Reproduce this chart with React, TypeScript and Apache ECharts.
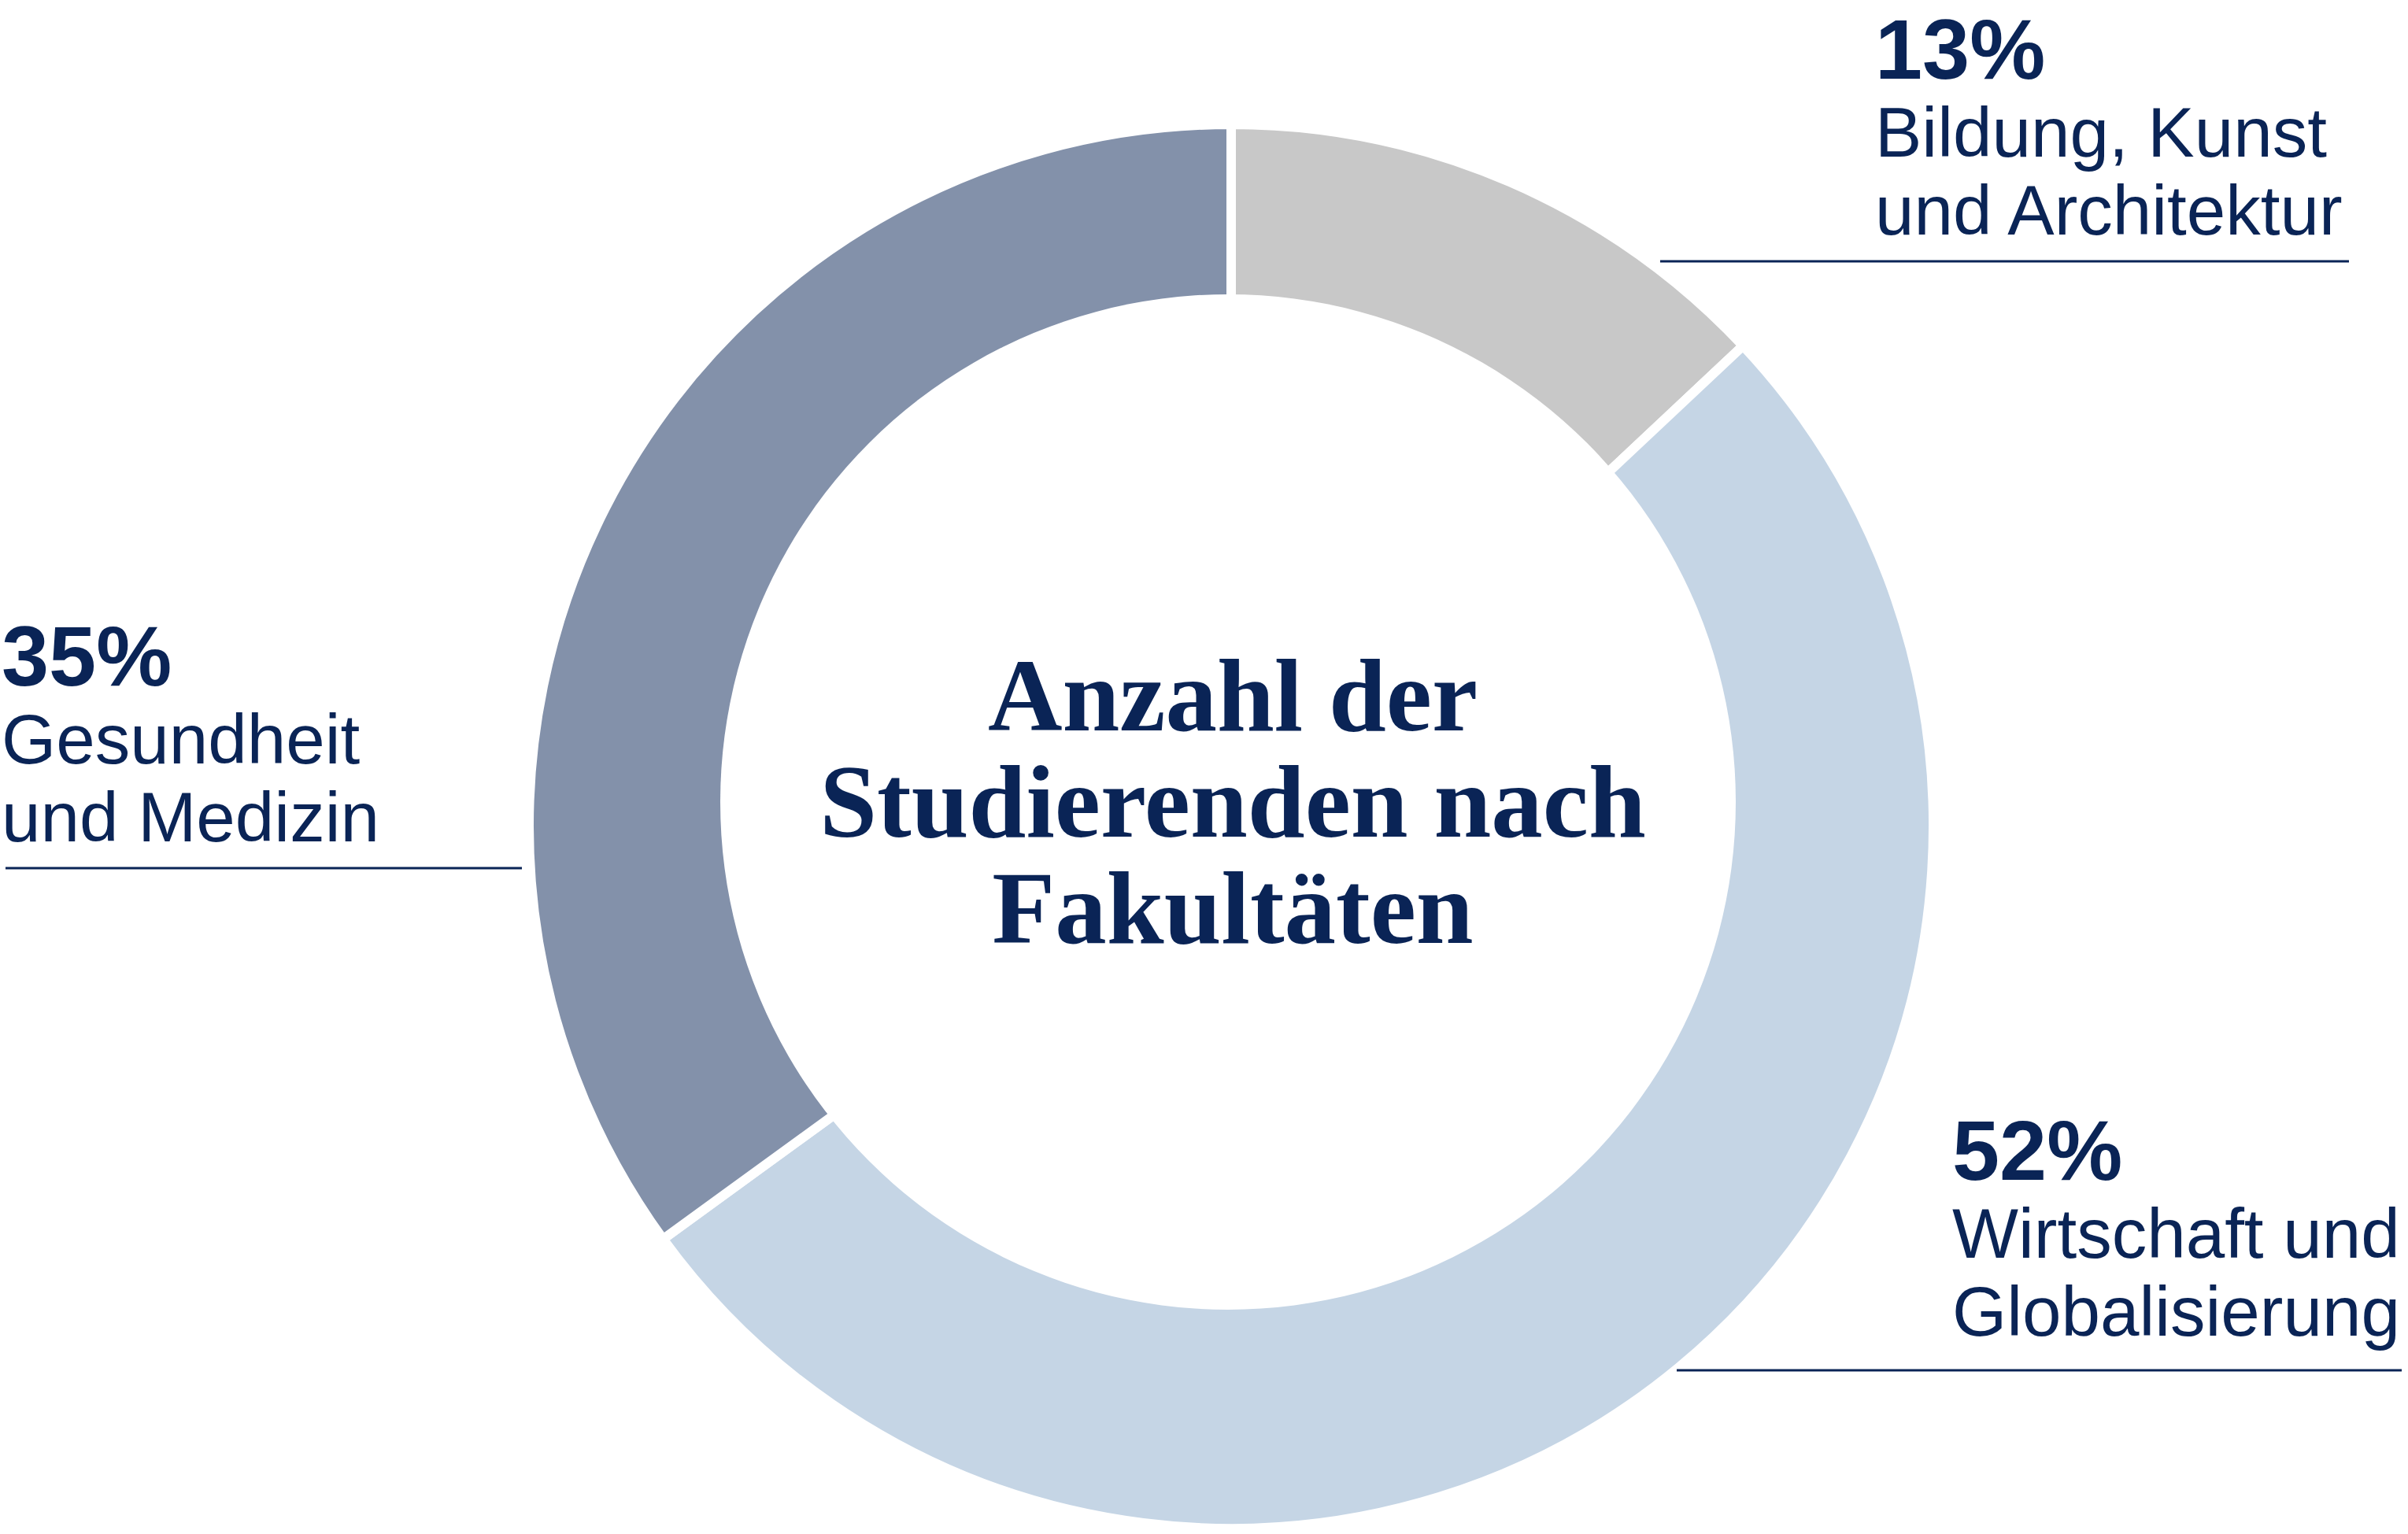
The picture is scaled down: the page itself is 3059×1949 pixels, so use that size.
import { useEffect, useRef } from "react";
import * as echarts from "echarts";

// Anteile der Fakultäten (in Prozent), im Uhrzeigersinn ab 12 Uhr
const faculties = ["Bildung, Kunst und Architektur", "Wirtschaft und Globalisierung", "Gesundheit und Medizin"];
const shares = [13, 52, 35];
const labelLines = [
  ["Bildung, Kunst", "und Architektur"],
  ["Wirtschaft und", "Globalisierung"],
  ["Gesundheit", "und Medizin"],
];
const sliceColors = ["#C8C8C8", "#C5D5E5", "#8391AA"];
const titleLines = ["Anzahl der", "Studierenden nach", "Fakultäten"];

const NAVY = "#0A2456";
const SANS = "'Liberation Sans', Arial, Helvetica, sans-serif";
const SERIF = "'Liberation Serif', 'Times New Roman', serif";

// where each label block sits: left x, first baseline, underline
const labelBoxes = [
  { x: 2382, base: 100, lineY: 332, lineX1: 2109, lineX2: 2984 },
  { x: 2480, base: 1499, lineY: 1741, lineX1: 2130, lineX2: 3051 },
  { x: 2, base: 871, lineY: 1103, lineX1: 7, lineX2: 663 },
];

export default function App() {
  const divRef = useRef<HTMLDivElement>(null);

  useEffect(() => {
    if (!divRef.current) return;
    const chart = echarts.init(divRef.current, null, { renderer: "svg" });

    const graphics: any[] = [
      // the hole sits a little above the ring's centre
      {
        type: "circle",
        z: 100,
        silent: true,
        shape: { cx: 1560, cy: 1019, r: 645 },
        style: { fill: "#ffffff" },
      },
    ];

    titleLines.forEach((t, i) => {
      graphics.push({
        type: "text",
        z: 110,
        x: 1566,
        y: 927 + i * 135 - 44,
        style: {
          text: t,
          font: `bold 131px ${SERIF}`,
          fill: NAVY,
          align: "center",
          verticalAlign: "middle",
        },
      });
    });

    labelBoxes.forEach((b, i) => {
      graphics.push({
        type: "text",
        z: 110,
        x: b.x,
        y: b.base - 38,
        style: {
          text: `${shares[i]}%`,
          font: `bold 108px ${SANS}`,
          fill: NAVY,
          align: "left",
          verticalAlign: "middle",
        },
      });
      labelLines[i].forEach((t, j) => {
        graphics.push({
          type: "text",
          z: 110,
          x: b.x,
          y: b.base + 99 * (j + 1) - 31,
          style: {
            text: t,
            font: `89px ${SANS}`,
            fill: NAVY,
            align: "left",
            verticalAlign: "middle",
          },
        });
      });
      graphics.push({
        type: "line",
        z: 110,
        shape: { x1: b.lineX1, y1: b.lineY, x2: b.lineX2, y2: b.lineY },
        style: { stroke: NAVY, lineWidth: 3 },
      });
    });

    chart.setOption({
      animation: false,
      backgroundColor: "#ffffff",
      series: [
        {
          type: "pie",
          center: [1564, 1050],
          radius: [0, 892],
          startAngle: 90,
          clockwise: true,
          silent: true,
          label: { show: false },
          labelLine: { show: false },
          itemStyle: { borderColor: "#ffffff", borderWidth: 12 },
          data: faculties.map((name, i) => ({
            name,
            value: shares[i],
            itemStyle: { color: sliceColors[i] },
          })),
        },
      ],
      graphic: { elements: graphics },
    });

    return () => {
      chart.dispose();
    };
  }, []);

  return (
    <div
      ref={divRef}
      style={{ position: "fixed", left: 0, top: 0, width: 3059, height: 1949 }}
    />
  );
}
